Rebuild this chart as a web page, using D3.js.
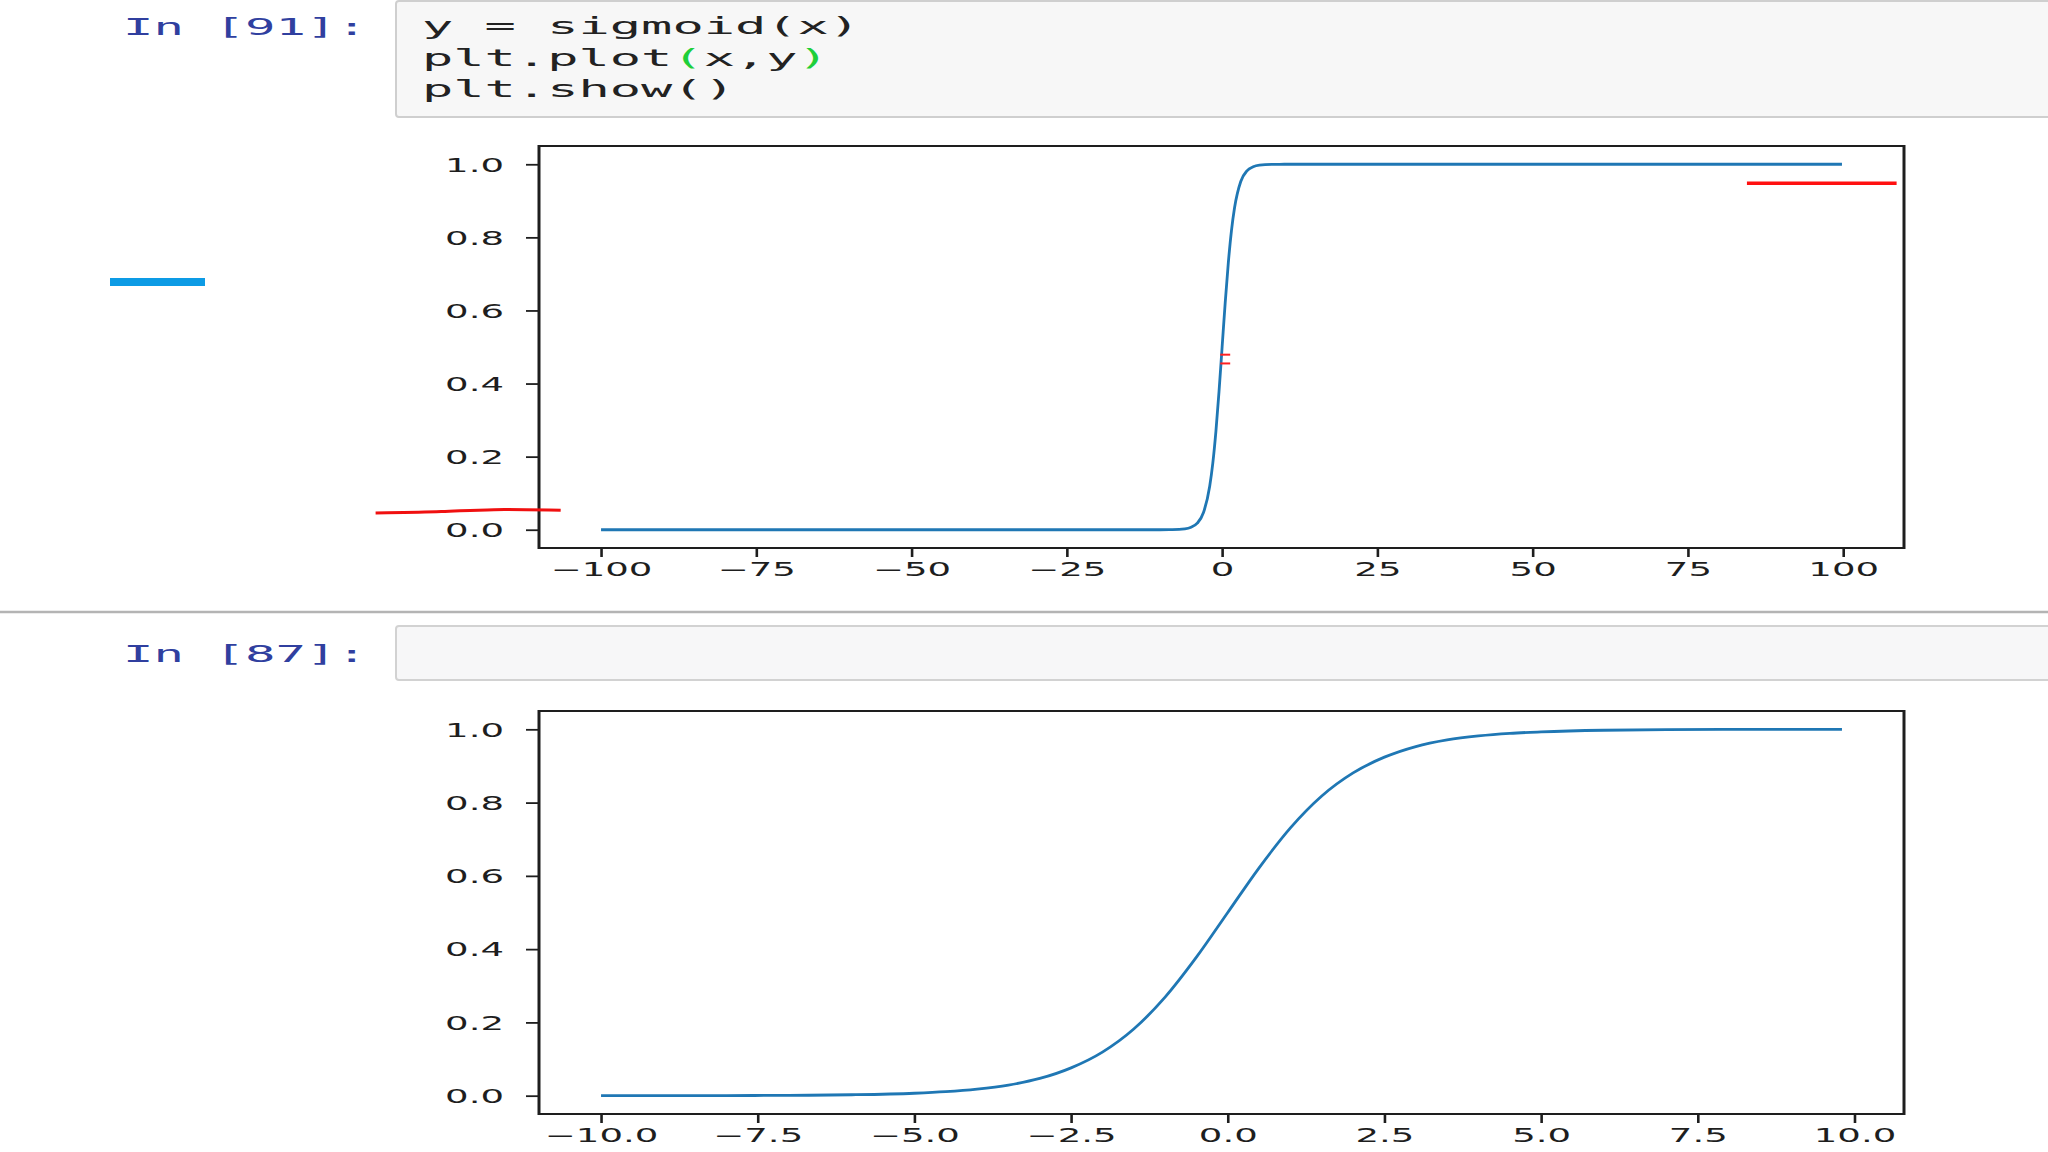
<!DOCTYPE html>
<html>
<head>
<meta charset="utf-8">
<script src="https://cdn.jsdelivr.net/npm/d3@7"></script>
<style>
  html, body { margin: 0; padding: 0; background: #ffffff; }
  svg { display: block; }
</style>
</head>
<body>
<svg id="chart" width="2048" height="1152"></svg>
<script>
// ---- data ----
const topX = [-100, -50, -10, -8, -6, -5, -4, -3, -2, -1.5, -1, -0.5, 0, 0.5, 1, 1.5, 2, 3, 4, 5, 6, 8, 10, 50, 99.8];
const topY = [0.000, 0.000, 0.000, 0.0003, 0.0025, 0.007, 0.018, 0.047, 0.119, 0.182, 0.269, 0.378, 0.500, 0.622, 0.731, 0.818, 0.881, 0.953, 0.982, 0.993, 0.9975, 0.9997, 1.000, 1.000, 1.000];

const bottomX = [-10, -9, -8, -7, -6, -5, -4.5, -4, -3.5, -3, -2.5, -2, -1.5, -1, -0.5, 0, 0.5, 1, 1.5, 2, 2.5, 3, 3.5, 4, 4.5, 5, 6, 7, 8, 9, 9.8];
const bottomY = [0.0000, 0.0001, 0.0003, 0.0009, 0.0025, 0.0067, 0.011, 0.018, 0.029, 0.047, 0.076, 0.119, 0.182, 0.269, 0.378, 0.500, 0.622, 0.731, 0.818, 0.881, 0.924, 0.953, 0.971, 0.982, 0.989, 0.993, 0.9975, 0.9991, 0.9997, 0.9999, 0.9999];

const topXTicks = [-100, -75, -50, -25, 0, 25, 50, 75, 100];
const bottomXTicks = [-10, -7.5, -5, -2.5, 0, 2.5, 5, 7.5, 10];
const yTicks = [0, 0.2, 0.4, 0.6, 0.8, 1.0];

const prompt1 = "In [91]:";
const prompt2 = "In [87]:";
const codeLines = ["y = sigmoid(x)", "plt.plot(x,y)", "plt.show()"];

// hand-drawn red annotation marks, in the top plot's data units
const redRightX = [84.5, 108.6];
const redRightY = [0.948, 0.948];
const redLeftX = [-136.3, -125, -118, -106.5];
const redLeftY = [0.046, 0.049, 0.057, 0.053];
const redTickX = [-0.3, 1.3];
const redTickY = [0.479, 0.455];

// ---- drawing ----
const svg = d3.select("#chart");
const BLUE = "#1f77b4";
const INK = "#1e1e1e";
const SX = 1.95; // horizontal stretch of the screenshot text

// notebook chrome
svg.append("rect").attr("x", 396).attr("y", 1).attr("width", 1700).attr("height", 116)
  .attr("rx", 3).attr("fill", "#f7f7f7").attr("stroke", "#cfcfcf").attr("stroke-width", 2);
svg.append("rect").attr("x", 396).attr("y", 626).attr("width", 1700).attr("height", 54)
  .attr("rx", 3).attr("fill", "#f7f7f8").attr("stroke", "#d2d2d2").attr("stroke-width", 2);
svg.append("line").attr("x1", 0).attr("x2", 2048).attr("y1", 612).attr("y2", 612)
  .attr("stroke", "#b4b4b4").attr("stroke-width", 2.5);
svg.append("rect").attr("x", 110).attr("y", 278).attr("width", 95).attr("height", 8)
  .attr("fill", "#0d9be5");

function monoText(str, x, y, charW, color) {
  return svg.append("text").attr("x", x).attr("y", y)
    .attr("font-family", "'DejaVu Sans Mono', 'Liberation Mono', monospace")
    .attr("font-size", 23).attr("fill", color)
    .attr("textLength", str.length * charW).attr("lengthAdjust", "spacingAndGlyphs")
    .attr("xml:space", "preserve")
    .text(str);
}
monoText(prompt1, 123, 35, 30.5, "#303f9f");
monoText(prompt2, 123, 662, 30.5, "#303f9f");

const codeBase = [34, 66, 97];
codeLines.forEach((line, i) => {
  const t = svg.append("text").attr("x", 422).attr("y", codeBase[i])
    .attr("font-family", "'DejaVu Sans Mono', 'Liberation Mono', monospace")
    .attr("font-size", 23).attr("fill", "#222")
    .attr("textLength", line.length * 31.3).attr("lengthAdjust", "spacingAndGlyphs")
    .attr("xml:space", "preserve");
  if (i === 1) {
    const parts = [["plt.plot", "#222"], ["(", "#1fcf3a"], ["x,y", "#222"], [")", "#1fcf3a"]];
    parts.forEach(p => t.append("tspan").attr("fill", p[1]).text(p[0]));
  } else {
    t.text(line);
  }
});

function fmtTop(d) { return d < 0 ? "\u2212" + Math.abs(d) : String(d); }
function fmtBottom(d) { return d < 0 ? "\u2212" + Math.abs(d).toFixed(1) : d.toFixed(1); }
function fmtY(d) { return d.toFixed(1); }

function drawPlot(box, xDomain, xs, ys, xTicks, xFmt) {
  const x = d3.scaleLinear().domain(xDomain).range([box.left, box.right]);
  const y = d3.scaleLinear().domain([-0.05, 1.05]).range([box.bottom, box.top]);
  const g = svg.append("g");

  // y axis
  const ya = g.append("g").attr("transform", `translate(${box.left},0)`)
    .call(d3.axisLeft(y).tickValues(yTicks).tickFormat(fmtY).tickSize(13));
  ya.select(".domain").remove();
  ya.selectAll(".tick line").attr("stroke", INK).attr("stroke-width", 1.8);
  ya.selectAll(".tick text")
    .attr("x", 0).attr("dy", "0.36em")
    .attr("transform", `translate(-35,0) scale(${SX},1)`)
    .attr("font-family", "'DejaVu Sans', sans-serif").attr("font-size", 19)
    .attr("fill", INK).attr("text-anchor", "end");

  // x axis
  const xa = g.append("g").attr("transform", `translate(0,${box.bottom})`)
    .call(d3.axisBottom(x).tickValues(xTicks).tickFormat(xFmt).tickSize(9));
  xa.select(".domain").remove();
  xa.selectAll(".tick line").attr("stroke", INK).attr("stroke-width", 2.6);
  xa.selectAll(".tick text")
    .attr("y", 0).attr("dy", 0)
    .attr("transform", `translate(0,27.5) scale(${SX},1)`)
    .attr("font-family", "'DejaVu Sans', sans-serif").attr("font-size", 19)
    .attr("fill", INK).attr("text-anchor", "middle");

  // curve
  const pts = xs.map((d, i) => [d, ys[i]]);
  g.append("path").datum(pts)
    .attr("fill", "none").attr("stroke", BLUE).attr("stroke-width", 2.8)
    .attr("stroke-linejoin", "round")
    .attr("d", d3.line().x(d => x(d[0])).y(d => y(d[1])).curve(d3.curveMonotoneX));

  // spines
  const sp = g.append("g").attr("stroke", INK);
  sp.append("line").attr("x1", box.left).attr("x2", box.right).attr("y1", box.top).attr("y2", box.top).attr("stroke-width", 1.8);
  sp.append("line").attr("x1", box.left).attr("x2", box.right).attr("y1", box.bottom).attr("y2", box.bottom).attr("stroke-width", 1.8);
  sp.append("line").attr("x1", box.left).attr("x2", box.left).attr("y1", box.top - 0.9).attr("y2", box.bottom + 0.9).attr("stroke-width", 3);
  sp.append("line").attr("x1", box.right).attr("x2", box.right).attr("y1", box.top - 0.9).attr("y2", box.bottom + 0.9).attr("stroke-width", 3);
  return { x, y, g };
}

const topPlot = drawPlot({ left: 539, right: 1904, top: 146, bottom: 548 }, [-109.99, 109.79],
  topX, topY, topXTicks, fmtTop);
drawPlot({ left: 539, right: 1904, top: 711, bottom: 1114 }, [-10.99, 10.79],
  bottomX, bottomY, bottomXTicks, fmtBottom);

// red annotations (through the top plot's scales)
const redLine = d3.line().x(d => topPlot.x(d[0])).y(d => topPlot.y(d[1]));
svg.append("path").datum(redRightX.map((d, i) => [d, redRightY[i]]))
  .attr("fill", "none").attr("stroke", "#ff1010").attr("stroke-width", 3.4).attr("d", redLine);
svg.append("path").datum(redLeftX.map((d, i) => [d, redLeftY[i]]))
  .attr("fill", "none").attr("stroke", "#f01010").attr("stroke-width", 3)
  .attr("d", d3.line().x(d => topPlot.x(d[0])).y(d => topPlot.y(d[1])).curve(d3.curveBasis));
redTickY.forEach(v => {
  svg.append("path").datum(redTickX.map(d => [d, v]))
    .attr("fill", "none").attr("stroke", "#ff2020").attr("stroke-width", 2).attr("d", redLine);
});
</script>
</body>
</html>
